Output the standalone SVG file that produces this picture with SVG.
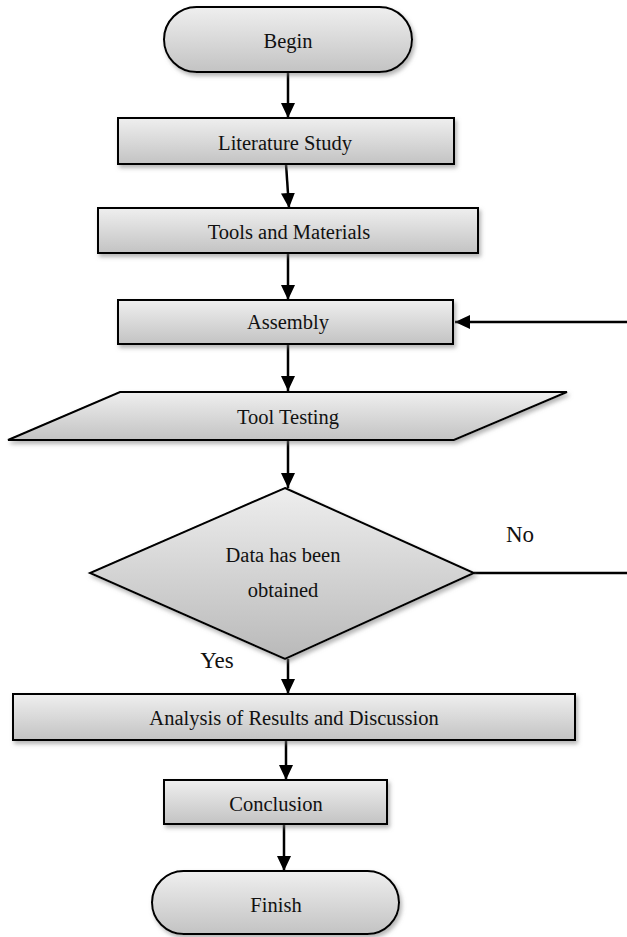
<svg xmlns="http://www.w3.org/2000/svg" width="627" height="937" viewBox="0 0 627 937">
<defs>
<linearGradient id="g" x1="0" y1="0" x2="0" y2="1">
<stop offset="0" stop-color="#efefef"/>
<stop offset="1" stop-color="#c3c3c3"/>
</linearGradient>
<linearGradient id="gd" x1="0" y1="0" x2="0" y2="1">
<stop offset="0" stop-color="#eeeeee"/>
<stop offset="1" stop-color="#b9b9b9"/>
</linearGradient>
<filter id="sh" x="-10%" y="-20%" width="130%" height="160%">
<feDropShadow dx="2" dy="3" stdDeviation="2" flood-color="#777" flood-opacity="0.55"/>
</filter>
<marker id="ah" markerUnits="userSpaceOnUse" markerWidth="16" markerHeight="14" refX="15" refY="7" orient="auto">
<path d="M0,0 L15,7 L0,14 Z" fill="#000"/>
</marker>
</defs>
<style>
.box{fill:url(#g);stroke:#000;stroke-width:2;filter:url(#sh)}
.dia{fill:url(#gd);stroke:#000;stroke-width:2;filter:url(#sh)}
.t{font-family:"Liberation Serif","Times New Roman",serif;font-size:20.5px;fill:#111;text-anchor:middle}
.lbl{font-family:"Liberation Serif","Times New Roman",serif;font-size:23px;fill:#111;text-anchor:middle}
.c{stroke:#000;stroke-width:2.5;fill:none}
</style>
<g id="connectors">
<line class="c" x1="288" y1="72" x2="288" y2="118" marker-end="url(#ah)"/>
<line class="c" x1="286" y1="164" x2="289" y2="208" marker-end="url(#ah)"/>
<line class="c" x1="288" y1="253" x2="288" y2="300" marker-end="url(#ah)"/>
<line class="c" x1="288" y1="344" x2="288" y2="391" marker-end="url(#ah)"/>
<line class="c" x1="288" y1="440" x2="288" y2="488" marker-end="url(#ah)"/>
<line class="c" x1="288" y1="659" x2="288" y2="694" marker-end="url(#ah)"/>
<line class="c" x1="286" y1="740" x2="286" y2="780" marker-end="url(#ah)"/>
<line class="c" x1="284" y1="824" x2="284" y2="871" marker-end="url(#ah)"/>
<line class="c" x1="474" y1="573" x2="627" y2="573"/>
<line class="c" x1="627" y1="322" x2="455" y2="322" marker-end="url(#ah)"/>
</g>
<g id="begin">
<rect class="box" x="164" y="7" width="248" height="65" rx="32.5"/>
<text class="t" x="288" y="48">Begin</text>
</g>
<g id="literature">
<rect class="box" x="118" y="118" width="336" height="46"/>
<text class="t" x="285" y="150">Literature Study</text>
</g>
<g id="tools">
<rect class="box" x="98" y="208" width="380" height="45"/>
<text class="t" x="289" y="239">Tools and Materials</text>
</g>
<g id="assembly">
<rect class="box" x="118" y="300" width="335" height="44"/>
<text class="t" x="288" y="329">Assembly</text>
</g>
<g id="testing">
<polygon class="box" points="120,392 567,392 454,440 8,440"/>
<text class="t" x="288" y="424">Tool Testing</text>
</g>
<g id="decision">
<polygon class="dia" points="285,488 474,573 285,659 90,573"/>
<text class="t" x="283" y="562">Data has been</text>
<text class="t" x="283" y="597">obtained</text>
</g>
<g id="labels">
<text class="lbl" x="520" y="542">No</text>
<text class="lbl" x="217" y="668">Yes</text>
</g>
<g id="analysis">
<rect class="box" x="13" y="694" width="562" height="46"/>
<text class="t" x="294" y="725">Analysis of Results and Discussion</text>
</g>
<g id="conclusion">
<rect class="box" x="164" y="780" width="223" height="44"/>
<text class="t" x="276" y="811">Conclusion</text>
</g>
<g id="finish">
<rect class="box" x="152" y="871" width="247" height="63" rx="31.5"/>
<text class="t" x="276" y="912">Finish</text>
</g>
</svg>
